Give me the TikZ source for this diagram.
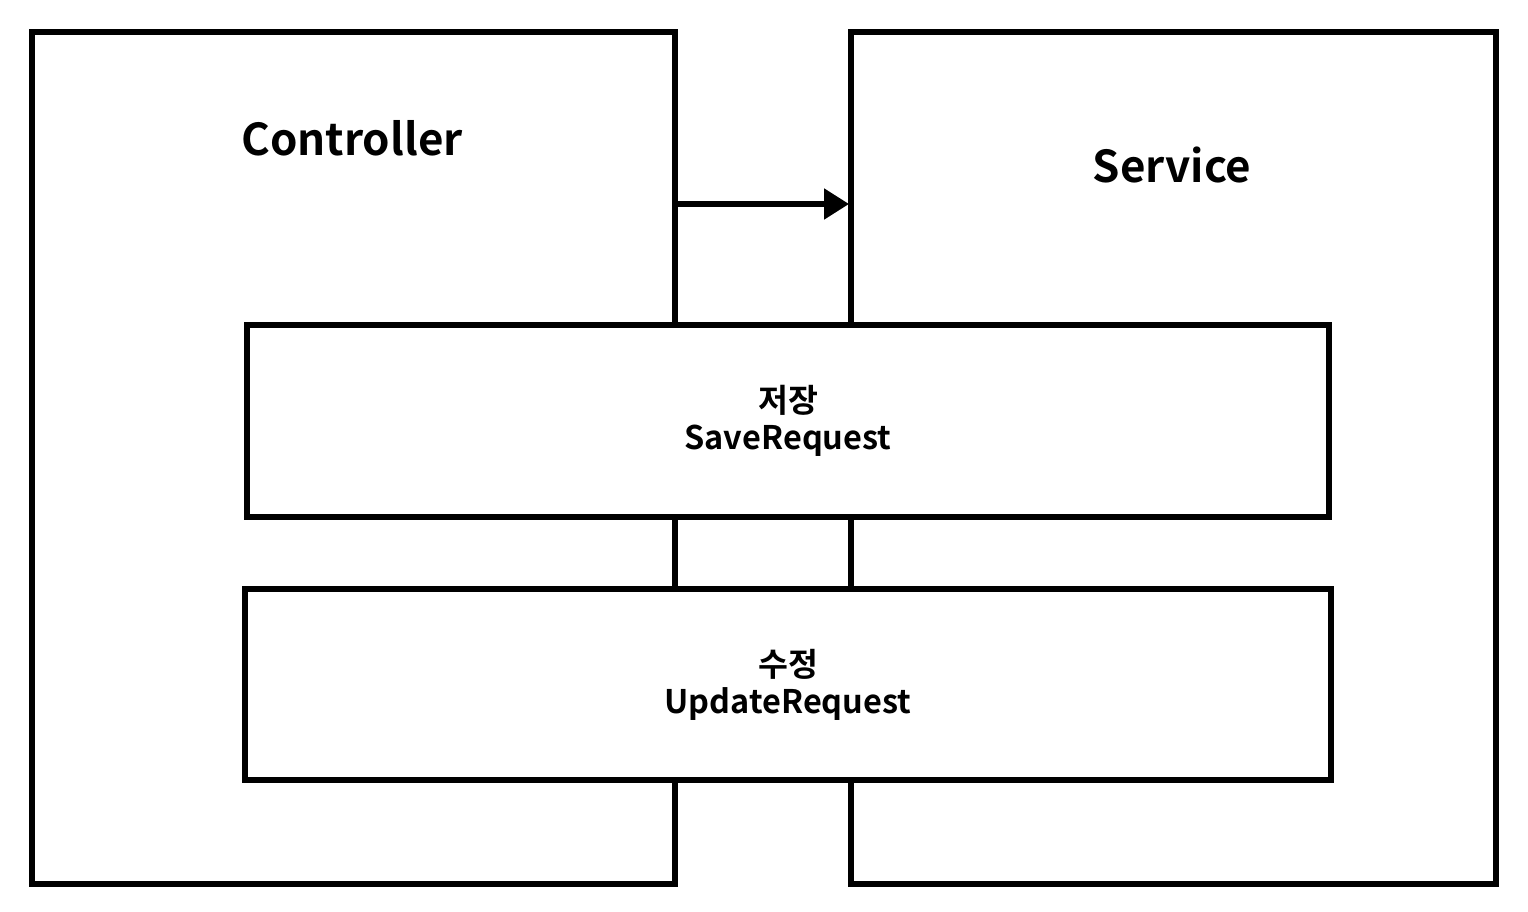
\documentclass[tikz,border=0pt]{standalone}
\usepackage{fontspec}
\setmainfont{Noto Sans CJK KR}[BoldFont={Noto Sans CJK KR Bold}]
\usepackage{tikz}
\usetikzlibrary{arrows.meta}
\colorlet{myink}{black}

\begin{document}
\begin{tikzpicture}[x=0.02cm,y=-0.02cm]
		\useasboundingbox (0,0) rectangle (1528,912);
		\tikzset{
			layerbox/.style={draw=myink, line width=3pt, rectangle, inner sep=0pt},
			dtobox/.style={layerbox, fill=white, align=center,
				font=\fontsize{18.5}{21}\selectfont\bfseries},
			title/.style={font=\fontsize{25}{30}\selectfont\bfseries}
		}
		
		% Draw the layers
		\node[layerbox, minimum width=12.86cm, minimum height=17.04cm] (controller) at (353.5,458) {};
		\node[layerbox, minimum width=12.9cm, minimum height=17.04cm] (service) at (1173.5,458) {};
		
		% Label the layers
		\node[title] (ctrllabel) at (352,138) {Controller};
		\node[title] (svclabel) at (1172,165) {Service};
		
		% Call from controller to service
		\coordinate (callstart) at (675,204);
		\coordinate (callend) at (849,204);
		\draw[myink, line width=3pt, -{Triangle[length=0.5cm, width=0.6cm]}] (callstart) -- (callend);
		
		% Draw the request objects
		\node[dtobox, minimum width=21.64cm, minimum height=3.84cm] (save) at (788,421) {저장\\SaveRequest};
		\node[dtobox, minimum width=21.72cm, minimum height=3.82cm] (update) at (788,684.5) {수정\\UpdateRequest};
	\end{tikzpicture}
\end{document}
